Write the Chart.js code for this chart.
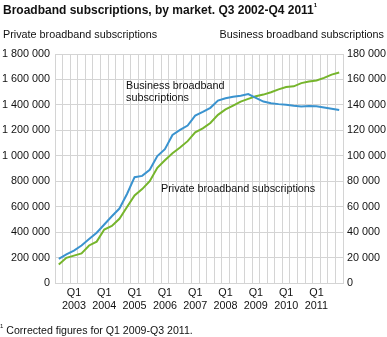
<!DOCTYPE html>
<html>
<head>
<meta charset="utf-8">
<script src="https://cdn.jsdelivr.net/npm/chart.js@4"></script>
<style>
  html, body { margin: 0; padding: 0; background: #fff; }
  body { width: 387px; height: 337px; position: relative; overflow: hidden;
         font-family: "Liberation Sans", Arial, sans-serif; color: #111; }
  #wrap { position: absolute; left: 0; top: 0; width: 387px; height: 337px; }
  .t { position: absolute; white-space: nowrap; }
  #title { left: 3px; top: 3px; font-size: 12px; font-weight: bold; }
  #title sup, #note sup { font-size: 6px; vertical-align: top; position: relative; top: -1px; }
  #axl { left: 3px; top: 28px; font-size: 10.8px; }
  #axr { right: 3px; top: 28px; font-size: 10.8px; }
  #note { left: 0px; top: 324px; font-size: 10.6px; }
  .ann { position: absolute; font-size: 10.8px; line-height: 11.5px; white-space: nowrap; }
</style>
</head>
<body>
<div id="wrap"><canvas id="c" width="387" height="337"></canvas></div>
<div class="t" id="title">Broadband subscriptions, by market. Q3 2002-Q4 2011<sup>1</sup></div>
<div class="t" id="axl">Private broadband subscriptions</div>
<div class="t" id="axr">Business broadband subscriptions</div>
<div class="ann" id="annBiz" style="left:126px; top:80px;">Business broadband<br>subscriptions</div>
<div class="ann" id="annPriv" style="left:161px; top:183px;">Private broadband subscriptions</div>
<div class="t" id="note"><sup>1</sup> Corrected figures for Q1 2009-Q3 2011.</div>
<script>
// Quarters, Q3 2002 to Q4 2011
const categories = [
  'Q3 2002', 'Q4 2002',
  'Q1 2003', 'Q2 2003', 'Q3 2003', 'Q4 2003',
  'Q1 2004', 'Q2 2004', 'Q3 2004', 'Q4 2004',
  'Q1 2005', 'Q2 2005', 'Q3 2005', 'Q4 2005',
  'Q1 2006', 'Q2 2006', 'Q3 2006', 'Q4 2006',
  'Q1 2007', 'Q2 2007', 'Q3 2007', 'Q4 2007',
  'Q1 2008', 'Q2 2008', 'Q3 2008', 'Q4 2008',
  'Q1 2009', 'Q2 2009', 'Q3 2009', 'Q4 2009',
  'Q1 2010', 'Q2 2010', 'Q3 2010', 'Q4 2010',
  'Q1 2011', 'Q2 2011', 'Q3 2011', 'Q4 2011'
];

// Private subscriptions (left axis)
const privateSubs = [
  145000, 198000,
  215000, 232000, 295000, 325000,
  420000, 448000, 505000, 598000,
  688000, 738000, 800000, 905000,
  965000, 1020000, 1065000, 1115000,
  1185000, 1215000, 1258000, 1322000,
  1364000, 1395000, 1426000, 1447000,
  1468000, 1481000, 1499000, 1522000,
  1540000, 1546000, 1571000, 1584000,
  1592000, 1612000, 1638000, 1655000
];

// Business subscriptions (right axis)
const businessSubs = [
  19000, 22500,
  25500, 29500, 34500, 39500,
  46000, 52500, 58500, 70000,
  83200, 84200, 89000, 99800,
  105200, 116400, 120300, 123800,
  131600, 134500, 137700, 143400,
  145200, 146400, 147200, 148500,
  145500, 142600, 141300, 140600,
  140100, 139300, 138800, 139100,
  139000, 137900, 136900, 135900
];

const leftTicks = { min: 0, max: 1800000, step: 200000 };
const rightTicks = { min: 0, max: 180000, step: 20000 };

const GRID = '#d4d4d4';
const TEXT = '#111';
const FONT = { family: '"Liberation Sans", Arial, sans-serif', size: 10.8 };

function spaced(v) {
  return String(v).replace(/\B(?=(\d{3})+(?!\d))/g, ' ');
}

new Chart(document.getElementById('c'), {
  type: 'line',
  data: {
    labels: categories,
    datasets: [
      {
        label: 'Business broadband subscriptions',
        data: businessSubs,
        yAxisID: 'yR',
        borderColor: '#3a93cf',
        borderWidth: 2,
        pointRadius: 0,
        tension: 0,
        fill: false
      },
      {
        label: 'Private broadband subscriptions',
        data: privateSubs,
        yAxisID: 'yL',
        borderColor: '#76b52c',
        borderWidth: 2,
        pointRadius: 0,
        tension: 0,
        fill: false
      }
    ]
  },
  options: {
    responsive: false,
    animation: false,
    devicePixelRatio: 1,
    layout: { padding: { top: 54, left: 0, right: 0, bottom: 0 } },
    plugins: { legend: { display: false }, tooltip: { enabled: false }, title: { display: false } },
    scales: {
      x: {
        offset: true,
        grid: { offset: true, color: GRID, lineWidth: 1, drawTicks: false },
        border: { color: GRID },
        ticks: {
          autoSkip: false, maxRotation: 0, minRotation: 0, padding: 4,
          color: TEXT, font: FONT,
          callback: function (val, idx) {
            const lab = categories[idx];
            return lab.startsWith('Q1') ? ['Q1', lab.slice(3)] : '';
          }
        },
        afterFit: function (s) { s.height = 54; }
      },
      yL: {
        position: 'left',
        min: leftTicks.min, max: leftTicks.max,
        grid: { color: GRID, lineWidth: 1, drawTicks: false },
        border: { color: GRID },
        ticks: { stepSize: leftTicks.step, padding: 5, color: TEXT, font: FONT, callback: v => spaced(v) },
        afterFit: function (s) { s.width = 55; }
      },
      yR: {
        position: 'right',
        min: rightTicks.min, max: rightTicks.max,
        grid: { display: false, drawTicks: false },
        border: { color: GRID },
        ticks: { stepSize: rightTicks.step, padding: 4, color: TEXT, font: FONT, callback: v => spaced(v) },
        afterFit: function (s) { s.width = 44; }
      }
    }
  }
});
</script>
</body>
</html>
